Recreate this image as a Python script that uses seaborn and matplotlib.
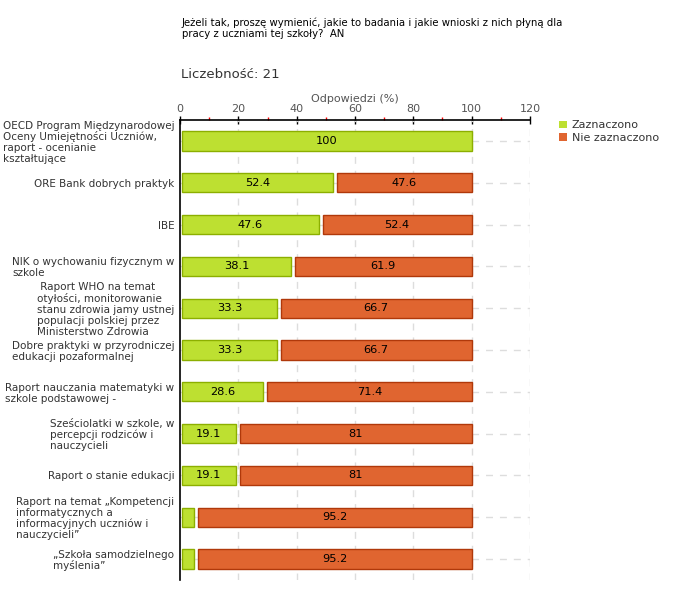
import matplotlib
matplotlib.use("Agg")
import matplotlib.pyplot as plt
import seaborn as sns
import pandas as pd
import numpy as np
from matplotlib.patches import Patch

categories = [
    "OECD Program Międzynarodowej\nOceny Umiejętności Uczniów,\nraport - ocenianie\nkształtujące",
    "ORE Bank dobrych praktyk",
    "IBE",
    "NIK o wychowaniu fizycznym w\nszkole",
    " Raport WHO na temat\notyłości, monitorowanie\nstanu zdrowia jamy ustnej\npopulacji polskiej przez\nMinisterstwo Zdrowia",
    "Dobre praktyki w przyrodniczej\nedukacji pozaformalnej",
    "Raport nauczania matematyki w\nszkole podstawowej -",
    "Sześciolatki w szkole, w\npercepcji rodziców i\nnauczycieli",
    "Raport o stanie edukacji",
    "Raport na temat „Kompetencji\ninformatycznych a\ninformacyjnych uczniów i\nnauczycieli”",
    "„Szkoła samodzielnego\nmyślenia”",
]
zaznaczono = [100, 52.4, 47.6, 38.1, 33.3, 33.3, 28.6, 19.1, 19.1, 4.8, 4.8]
nie_zaznaczono = [0, 47.6, 52.4, 61.9, 66.7, 66.7, 71.4, 81, 81, 95.2, 95.2]
xticks = [0, 20, 40, 60, 80, 100, 120]
title_lines = "Jeżeli tak, proszę wymienić, jakie to badania i jakie wnioski z nich płyną dla\npracy z uczniami tej szkoły?  AN"
count_text = "Liczebność: 21"
legend_labels = ["Zaznaczono", "Nie zaznaczono"]

sns.set_theme(style="white")
plt.rcParams['font.family'] = ['DejaVu Sans']

GREEN, GREEN_E = "#BDE031", "#8CAF00"
ORANGE, ORANGE_E = "#E06530", "#B0380A"
TXT = "#333333"

fig = plt.figure(figsize=(6.8, 6.0), dpi=100)
ax = fig.add_axes([180/680, 1-580/600, 350/680, 460/600])

df = pd.DataFrame({"cat": categories, "z": zaznaczono, "n": nie_zaznaczono})
y = np.arange(len(categories))
h = 0.46
start = 0.7
gap = 1.3

# green segments
sns.barplot(data=df, x="z", y="cat", orient="h", color=GREEN, saturation=1,
            edgecolor=GREEN_E, linewidth=1, width=h, ax=ax, zorder=3)
for p in ax.patches:
    p.set_x(start)
    p.set_width(p.get_width() - start)

# orange segments
for i, (g, n) in enumerate(zip(zaznaczono, nie_zaznaczono)):
    if n > 0:
        ax.barh(i, n - gap, left=g + gap, height=h, color=ORANGE,
                edgecolor=ORANGE_E, linewidth=1, zorder=3)
    if g >= 10:
        ax.text((start + g) / 2, i, f"{g:g}", ha="center", va="center",
                fontsize=8.2, color="black", zorder=4)
    if n >= 10:
        ax.text(g + gap + (n - gap) / 2, i, f"{n:g}", ha="center", va="center",
                fontsize=8.2, color="black", zorder=4)

ax.set_xlim(0, 120)
ax.set_ylim(len(categories) - 0.5, -0.5)
ax.xaxis.set_ticks_position("top")
ax.xaxis.set_label_position("top")
ax.set_xticks(xticks)
ax.set_xticks([10, 30, 50, 70, 90, 110], minor=True)
ax.tick_params(axis="x", which="major", direction="inout", length=6, width=1,
               color="black", labelsize=8, labelcolor="#555555", pad=1)
ax.tick_params(axis="x", which="minor", direction="out", length=2.5, width=1,
               color="red")
ax.set_yticks(y)
ax.set_yticklabels(categories, fontsize=7.5, color=TXT, linespacing=1.1,
                   multialignment="left")
ax.tick_params(axis="y", direction="out", length=3, width=1, color="black", pad=1)
ax.set_xlabel("Odpowiedzi (%)", fontsize=8, color="#555555", labelpad=2)
ax.set_ylabel("")

for s in ["right", "bottom"]:
    ax.spines[s].set_visible(False)
for s in ["top", "left"]:
    ax.spines[s].set_color("black")
    ax.spines[s].set_linewidth(1.2)

for xv in xticks[1:]:
    ax.axvline(xv, color="#dddddd", ls=(0, (5, 5)), lw=1, zorder=1)
for yi in y:
    ax.axhline(yi, color="#dddddd", ls=(0, (5, 5)), lw=1, zorder=1)

fig.text(182/680, 1-28/600, title_lines, fontsize=7.3, color="black",
         va="center", ha="left", linespacing=1.15)
fig.text(181/680, 1-75/600, count_text, fontsize=9.5, color=TXT,
         va="center", ha="left")

handles = [Patch(facecolor=GREEN, edgecolor="none", label=legend_labels[0]),
           Patch(facecolor=ORANGE, edgecolor="none", label=legend_labels[1])]
fig.legend(handles=handles, loc="upper left", bbox_to_anchor=(555/680, 1-116/600),
           frameon=False, fontsize=8, handlelength=0.7, handleheight=0.7,
           handletextpad=0.4, labelspacing=0.25, labelcolor=TXT, borderaxespad=0)

fig.savefig("out.png", dpi=100)
